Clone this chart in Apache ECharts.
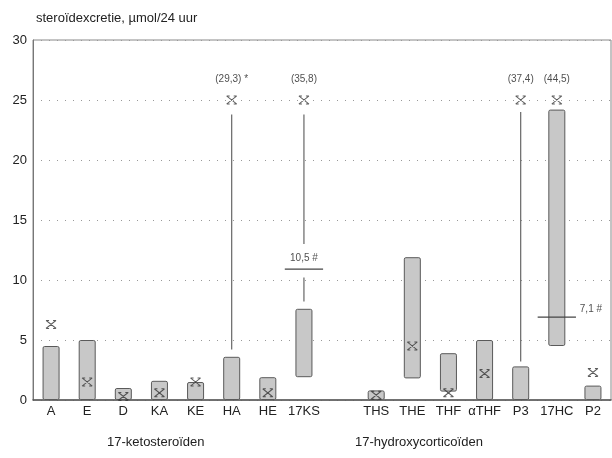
<!DOCTYPE html>
<html>
<head>
<meta charset="utf-8">
<script src="https://cdn.jsdelivr.net/npm/echarts@6/dist/echarts.min.js"></script>
<style>
  html, body { margin: 0; padding: 0; background: #fff; }
  #chart { width: 612px; height: 458px; }
</style>
</head>
<body>
<div id="chart"></div>
<script>
// steroidexcretie per steroid: range (bar), patient value (marker)
var categories = ['A', 'E', 'D', 'KA', 'KE', 'HA', 'HE', '17KS', '', 'THS', 'THE', 'THF', 'αTHF', 'P3', '17HC', 'P2'];
var rangeLow  = [0, 0, 0, 0, 0, 0, 0, 1.9, null, 0, 1.8, 0.7, 0, 0, 4.5, 0];
var rangeHigh = [4.5, 5.0, 1.0, 1.6, 1.5, 3.6, 1.9, 7.6, null, 0.8, 11.9, 3.9, 5.0, 2.8, 24.2, 1.2];
var patient   = [6.3, 1.5, 0.3, 0.6, 1.5, 25, 0.6, 25, null, 0.4, 4.5, 0.6, 2.2, 25, 25, 2.3];

// vertical connector lines: [category index, from, to]
var whiskers = [[5, 4.2, 23.8], [7, 8.2, 10.2], [7, 13.0, 23.8], [13, 3.2, 24.0]];
// mean lines: [category index, value]
var means = [[7, 10.9], [14, 6.9]];

// annotations: [category index, value, text]
var topNotes = [[5, 26.7, '(29,3) *'], [7, 26.7, '(35,8)'], [13, 26.7, '(37,4)'], [14, 26.7, '(44,5)'], [7, 11.8, '10,5 #']];
var sideNotes = [[14, 7.6, '7,1 #']];

var yTicks = [0, 5, 10, 15, 20, 25, 30];

var font = 'Liberation Sans, Arial, sans-serif';
var ink = '#222';

var chart = echarts.init(document.getElementById('chart'), null, { renderer: 'canvas' });

var rangeSize = rangeHigh.map(function (h, i) {
    return h == null ? null : +(h - rangeLow[i]).toFixed(2);
});
var markerData = [];
patient.forEach(function (v, i) { if (v != null) markerData.push([i, v]); });

var option = {
    animation: false,
    title: {
        text: 'steroïdexcretie, µmol/24 uur',
        left: 31,
        top: 7,
        textStyle: { fontFamily: font, fontSize: 13, fontWeight: 'normal', color: ink }
    },
    grid: {
        left: 33, right: 1, top: 40, bottom: 58,
        show: true, borderColor: '#888', borderWidth: 1
    },
    xAxis: {
        type: 'category',
        data: categories,
        axisLine: { lineStyle: { color: '#555', width: 1.5 } },
        axisTick: { show: false },
        axisLabel: {
            interval: 0, hideOverlap: false, margin: 5,
            fontFamily: font, fontSize: 13, color: ink
        }
    },
    yAxis: {
        type: 'value',
        min: 0, max: 30, interval: 5,
        axisLine: { show: true, lineStyle: { color: '#777' } },
        axisTick: { show: false },
        axisLabel: {
            margin: 6, fontFamily: font, fontSize: 13, color: ink,
            formatter: function (v) { return yTicks.indexOf(v) >= 0 ? v : ''; }
        },
        splitLine: { lineStyle: { color: '#999', type: [1, 7] } }
    },
    series: [
        {
            type: 'bar', stack: 'r', data: rangeLow, barWidth: 17,
            itemStyle: { color: 'transparent' }, silent: true
        },
        {
            type: 'bar', stack: 'r', data: rangeSize, barWidth: 17,
            itemStyle: { color: '#c8c8c8', borderColor: '#5a5a5a', borderWidth: 1, borderRadius: 1.5 }
        },
        {
            type: 'custom',
            data: whiskers,
            renderItem: function (params, api) {
                var a = api.coord([api.value(0), api.value(1)]);
                var b = api.coord([api.value(0), api.value(2)]);
                return {
                    type: 'line',
                    shape: { x1: a[0], y1: a[1], x2: b[0], y2: b[1] },
                    style: { stroke: '#666', lineWidth: 1.2 }
                };
            },
            z: 3
        },
        {
            type: 'custom',
            data: means,
            renderItem: function (params, api) {
                var c = api.coord([api.value(0), api.value(1)]);
                var half = api.size([1, 0])[0] * 0.53;
                return {
                    type: 'line',
                    shape: { x1: c[0] - half, y1: c[1], x2: c[0] + half, y2: c[1] },
                    style: { stroke: '#444', lineWidth: 1.2 }
                };
            },
            z: 4
        },
        {
            type: 'scatter',
            data: markerData,
            symbol: 'path://M0 0L3 0M7 0L10 0M0 0L10 8M10 0L0 8M0 8L3 8M7 8L10 8',
            symbolSize: [10, 8],
            itemStyle: { color: 'none', borderColor: '#333', borderWidth: 1.1 },
            z: 5
        },
        {
            type: 'scatter',
            data: topNotes,
            symbolSize: 0,
            label: {
                show: true, position: 'inside',
                formatter: function (p) { return p.value[2]; },
                fontFamily: font, fontSize: 10, color: ink
            },
            z: 6
        },
        {
            type: 'scatter',
            data: sideNotes,
            symbolSize: 0,
            label: {
                show: true, position: 'inside', align: 'left', offset: [23, 0],
                formatter: function (p) { return p.value[2]; },
                fontFamily: font, fontSize: 10, color: ink
            },
            z: 6
        }
    ],
    graphic: [
        {
            type: 'text', left: 107, top: 436,
            style: { text: '17-ketosteroïden', font: '13px ' + font, fill: ink }
        },
        {
            type: 'text', left: 355, top: 436,
            style: { text: '17-hydroxycorticoïden', font: '13px ' + font, fill: ink }
        }
    ]
};

chart.setOption(option);
</script>
</body>
</html>
